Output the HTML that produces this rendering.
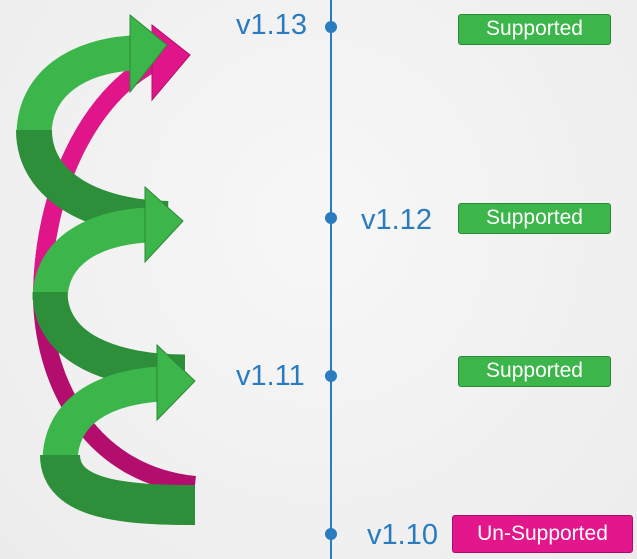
<!DOCTYPE html>
<html><head><style>
body{margin:0;width:637px;height:559px;overflow:hidden;background:radial-gradient(ellipse at 50% 40%,#f7f7f7,#ececec);font-family:"Liberation Sans",sans-serif;position:relative}
.lbl{position:absolute;color:#2a7bbf;font-size:29px;line-height:30px}
.badge{position:absolute;color:#fff;font-size:21px;text-align:center;border-radius:3px;box-sizing:border-box;line-height:28px}
.g{background:#3cb54a;border:1.5px solid #2a8a36}
.p{background:#e3168c;border:1.5px solid #a80e66}
</style></head><body>
<svg width="637" height="559" style="position:absolute;left:0;top:0">
<g>
<path d="M195,485 C95,475 45,390 42,300 C42,190 90,95 155,62" fill="none" stroke="#b30e6e" stroke-width="18"/>
<path d="M42,300 C42,190 90,95 155,62" fill="none" stroke="#e0158a" stroke-width="18"/>
<polygon points="152,25 190,55 152,100" fill="#e0158a" stroke="#b30e6e"/>
</g>
<g>
<path d="M34,135 C34,82 80,56 132,53" fill="none" stroke="#3cb54a" stroke-width="35"/>
<polygon points="130,15 167,45 130,92" fill="#3cb54a" stroke="#2a8a36"/>
<path d="M34,130 C34,190 100,218 168,219" fill="none" stroke="#2e8f3a" stroke-width="36"/>
</g>
<g>
<path d="M50,300 C50,250 95,228 147,225" fill="none" stroke="#3cb54a" stroke-width="35"/>
<polygon points="145,187 183,221 145,262" fill="#3cb54a" stroke="#2a8a36"/>
<path d="M50,292 C50,350 115,372 185,372" fill="none" stroke="#2e8f3a" stroke-width="35"/>
</g>
<g>
<path d="M60,462 C60,410 105,388 159,384" fill="none" stroke="#3cb54a" stroke-width="35"/>
<polygon points="157,345 195,381 157,420" fill="#3cb54a" stroke="#2a8a36"/>
<path d="M60,455 C60,500 125,505 195,505" fill="none" stroke="#2e8f3a" stroke-width="40"/>
</g>
<line x1="331" y1="0" x2="331" y2="559" stroke="#2a7bbf" stroke-width="2"/>
<circle cx="331" cy="27" r="6" fill="#2a7bbf"/>
<circle cx="331" cy="218" r="6" fill="#2a7bbf"/>
<circle cx="331" cy="376" r="6" fill="#2a7bbf"/>
<circle cx="331" cy="534" r="6" fill="#2a7bbf"/>
</svg>
<div class="lbl" style="left:236px;top:10px">v1.13</div>
<div class="lbl" style="left:361px;top:205px">v1.12</div>
<div class="lbl" style="left:236px;top:361px">v1.11</div>
<div class="lbl" style="left:367px;top:520px">v1.10</div>
<div class="badge g" style="left:458px;top:14px;width:153px;height:31px">Supported</div>
<div class="badge g" style="left:458px;top:203px;width:153px;height:31px">Supported</div>
<div class="badge g" style="left:458px;top:356px;width:153px;height:31px">Supported</div>
<div class="badge p" style="left:452px;top:515px;width:181px;height:38px;line-height:35px">Un-Supported</div>
</body></html>
